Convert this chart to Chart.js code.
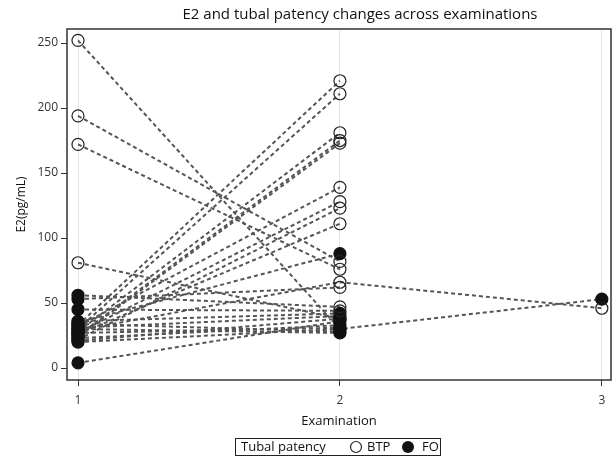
<!DOCTYPE html>
<html>
<head>
<meta charset="utf-8">
<script src="https://cdn.jsdelivr.net/npm/chart.js@4"></script>
<style>
  html, body { margin: 0; padding: 0; background: #fff; }
  #wrap { width: 612px; height: 457px; }
</style>
</head>
<body>
<div id="wrap"><canvas id="e2Chart"></canvas></div>
<script>
var exams = [1, 2, 3];
var yTicks = [0, 50, 100, 150, 200, 250];

// one entry per patient
var e2Exam1 = [252, 194, 172, 81, 56, 53, 45, 33, 30, 28, 25, 24, 32, 27, 22, 26, 35, 29, 4, 31, 23, 20, 34, 21, 36, 27, 30];
var e2Exam2 = [30, 82, 76, 38, 47, 62, 44, 221, 211, 181, 175, 173, 139, 128, 123, 111, 88, 66, 36, 40, 33, 30, 28, 38, 42, 31, 27];
var e2Exam3 = [null, null, null, null, null, null, null, null, null, null, null, null, null, null, null, null, null, 46, null, null, null, 53, null, null, null, null, null];

var status1 = ['BTP', 'BTP', 'BTP', 'BTP', 'FO', 'FO', 'FO', 'FO', 'FO', 'FO', 'FO', 'FO', 'FO', 'FO', 'FO', 'FO', 'FO', 'FO', 'FO', 'FO', 'FO', 'FO', 'FO', 'FO', 'FO', 'FO', 'FO'];
var status2 = ['FO', 'BTP', 'BTP', 'FO', 'BTP', 'BTP', 'BTP', 'BTP', 'BTP', 'BTP', 'BTP', 'BTP', 'BTP', 'BTP', 'BTP', 'BTP', 'FO', 'BTP', 'FO', 'FO', 'FO', 'FO', 'FO', 'FO', 'FO', 'FO', 'FO'];
var status3 = [null, null, null, null, null, null, null, null, null, null, null, null, null, null, null, null, null, 'BTP', null, null, null, 'FO', null, null, null, null, null];

var allValues = [e2Exam1, e2Exam2, e2Exam3];
var allStatus = [status1, status2, status3];

var lineSets = [];
var btpPts = [];
var foPts = [];
for (var i = 0; i < e2Exam1.length; i++) {
  var pts = [];
  for (var k = 0; k < exams.length; k++) {
    var v = allValues[k][i];
    if (v === null) continue;
    pts.push({ x: exams[k], y: v });
    if (allStatus[k][i] === 'FO') foPts.push({ x: exams[k], y: v });
    else btpPts.push({ x: exams[k], y: v });
  }
  lineSets.push({
    data: pts,
    borderColor: '#555',
    borderWidth: 2,
    borderDash: [4, 3],
    pointRadius: 0,
    fill: false,
    order: 1
  });
}

var datasets = [
  { label: 'BTP', data: btpPts, showLine: false, pointRadius: 6, pointBorderWidth: 1.2,
    pointBorderColor: '#222', pointBackgroundColor: 'rgba(0,0,0,0)', order: 0 },
  { label: 'FO', data: foPts, showLine: false, pointRadius: 6, pointBorderWidth: 1.2,
    pointBorderColor: '#111', pointBackgroundColor: '#111', order: 0 }
].concat(lineSets);

var FONT = "'Open Sans', sans-serif";

var decor = {
  id: 'decor',
  afterDraw: function(chart) {
    var c = chart.ctx, a = chart.chartArea;
    c.save();
    c.strokeStyle = '#333';
    c.lineWidth = 1.5;
    c.strokeRect(a.left, a.top, a.right - a.left, a.bottom - a.top);

    c.fillStyle = '#111';
    c.font = '15px ' + FONT;
    c.textAlign = 'center';
    c.textBaseline = 'middle';
    c.fillText('E2 and tubal patency changes across examinations', 360, 15);

    // legend
    c.lineWidth = 1;
    c.strokeStyle = '#222';
    c.strokeRect(235.5, 438.5, 205, 17);
    c.font = '13px ' + FONT;
    c.textAlign = 'left';
    c.fillText('Tubal patency', 241, 447);
    c.beginPath();
    c.arc(356, 447, 5.5, 0, Math.PI * 2);
    c.lineWidth = 1.2;
    c.stroke();
    c.fillText('BTP', 367, 447);
    c.beginPath();
    c.arc(408, 447, 6, 0, Math.PI * 2);
    c.fill();
    c.fillText('FO', 422, 447);
    c.restore();
  }
};

new Chart(document.getElementById('e2Chart'), {
  type: 'line',
  data: { datasets: datasets },
  plugins: [decor],
  options: {
    responsive: true,
    maintainAspectRatio: false,
    animation: false,
    devicePixelRatio: 1,
    layout: { autoPadding: false, padding: { top: 29, right: 1, left: 0, bottom: 24 } },
    plugins: { legend: { display: false }, tooltip: { enabled: false } },
    scales: {
      x: {
        type: 'linear',
        min: 0.958,
        max: 3.035,
        afterBuildTicks: function(s) { s.ticks = exams.map(function(v) { return { value: v }; }); },
        afterFit: function(s) { s.height = 53; s.paddingLeft = 0; s.paddingRight = 0; },
        grid: { color: '#e4e4e4', lineWidth: 1, tickColor: '#333', tickLength: 6 },
        border: { display: false },
        ticks: { color: '#333', font: { family: FONT, size: 12 }, padding: 7 },
        title: { display: true, text: 'Examination', color: '#111', font: { family: FONT, size: 13 }, padding: { top: 5, bottom: 4 } }
      },
      y: {
        min: -9.2,
        max: 260.8,
        afterBuildTicks: function(s) { s.ticks = yTicks.map(function(v) { return { value: v }; }); },
        afterFit: function(s) { s.width = 67; s.paddingTop = 0; s.paddingBottom = 0; },
        grid: { drawOnChartArea: false, tickColor: '#333', tickLength: 6 },
        border: { display: false },
        ticks: { color: '#333', font: { family: FONT, size: 12 }, padding: 3 },
        title: { display: true, text: 'E2(pg/mL)', color: '#111', font: { family: FONT, size: 12 }, padding: { top: 14, bottom: 0 } }
      }
    }
  }
});
</script>
</body>
</html>
